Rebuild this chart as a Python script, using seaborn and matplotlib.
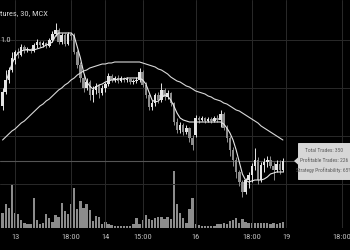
import numpy as np
import pandas as pd
import matplotlib
matplotlib.use("Agg")
import matplotlib.pyplot as plt
import seaborn as sns
from matplotlib import font_manager
from matplotlib.patches import Rectangle, Polygon

# ---------------- data ----------------
bar_index = list(range(-4, 87))  # 30-minute bars; 0 = day 13, 09:00

open_ = [5215, 5229, 5241, 5251, 5261, 5269, 5266, 5274, 5271, 5272, 5270, 5276, 5279, 5276, 5278, 5275,
         5281, 5287, 5291, 5279, 5286, 5277, 5287, 5285, 5269, 5256, 5243, 5233, 5239, 5226, 5231, 5235,
         5228, 5233, 5237, 5245, 5241, 5243, 5240, 5243, 5241, 5242, 5239, 5240, 5241, 5249, 5236, 5226,
         5214, 5218, 5226, 5221, 5231, 5224, 5228, 5218, 5199, 5191, 5196, 5189, 5193, 5183, 5186, 5203,
         5201, 5203, 5200, 5202, 5200, 5203, 5201, 5207, 5193, 5183, 5171, 5161, 5149, 5139, 5129, 5141,
         5146, 5155, 5161, 5141, 5156, 5159, 5161, 5155, 5151, 5157, 5151]
close = [5229, 5241, 5251, 5263, 5269, 5266, 5274, 5271, 5272, 5270, 5276, 5279, 5276, 5278, 5275, 5281,
         5287, 5291, 5279, 5286, 5277, 5287, 5285, 5269, 5256, 5243, 5233, 5239, 5226, 5231, 5235, 5228,
         5233, 5237, 5245, 5241, 5243, 5240, 5243, 5241, 5242, 5239, 5240, 5241, 5249, 5236, 5226, 5214,
         5218, 5226, 5221, 5231, 5224, 5228, 5218, 5199, 5191, 5196, 5189, 5193, 5183, 5176, 5203, 5201,
         5203, 5200, 5202, 5200, 5203, 5201, 5207, 5193, 5183, 5171, 5161, 5149, 5139, 5129, 5141, 5146,
         5155, 5161, 5141, 5156, 5159, 5161, 5155, 5151, 5157, 5151, 5160]
high = [5233, 5251, 5254, 5269, 5271, 5273, 5277, 5276, 5274, 5273, 5278, 5282, 5280, 5280, 5279, 5283,
        5290, 5298, 5293, 5288, 5288, 5289, 5289, 5288, 5271, 5259, 5247, 5243, 5241, 5235, 5238, 5237,
        5236, 5239, 5248, 5247, 5245, 5246, 5245, 5244, 5244, 5243, 5242, 5244, 5253, 5251, 5239, 5228,
        5221, 5228, 5229, 5238, 5233, 5231, 5229, 5219, 5203, 5199, 5198, 5196, 5194, 5186, 5206, 5205,
        5205, 5204, 5204, 5204, 5205, 5206, 5211, 5209, 5196, 5185, 5174, 5164, 5151, 5141, 5143, 5149,
        5158, 5173, 5164, 5159, 5163, 5165, 5165, 5159, 5161, 5161, 5163]
low = [5211, 5227, 5238, 5249, 5257, 5263, 5265, 5268, 5269, 5268, 5269, 5273, 5274, 5274, 5273, 5274,
       5279, 5285, 5277, 5277, 5275, 5276, 5281, 5267, 5253, 5239, 5229, 5231, 5221, 5219, 5227, 5223,
       5226, 5229, 5235, 5239, 5239, 5238, 5239, 5239, 5239, 5237, 5237, 5238, 5239, 5234, 5223, 5211,
       5211, 5215, 5218, 5219, 5221, 5222, 5215, 5196, 5188, 5188, 5186, 5187, 5179, 5171, 5184, 5198,
       5200, 5198, 5199, 5198, 5199, 5199, 5194, 5191, 5179, 5165, 5155, 5143, 5135, 5124, 5127, 5133,
       5139, 5151, 5137, 5139, 5149, 5154, 5153, 5141, 5149, 5147, 5149]
volume = [1500, 2400, 2000, 4400, 1500, 1400, 800, 500, 400, 400, 3000, 800, 400, 500, 1400, 1000,
          600, 1300, 1100, 2500, 1700, 1400, 2400, 4000, 1900, 2700, 2000, 2400, 1800, 700, 1200, 1100,
          400, 600, 400, 300, 200, 200, 200, 200, 200, 200, 400, 1000, 400, 800, 1300, 900,
          800, 1000, 1100, 1100, 900, 1100, 900, 5700, 2400, 1500, 1000, 500, 1900, 3000, 400, 300,
          200, 200, 200, 200, 200, 400, 400, 500, 400, 700, 800, 1000, 500, 900, 600, 500,
          500, 500, 500, 500, 500, 500, 400, 500, 400, 500, 600]
ma_fast = [5226, 5238, 5248, 5257, 5264, 5268, 5270, 5271, 5271, 5271, 5271, 5272, 5273, 5274, 5276, 5277,
           5279, 5285, 5288, 5288, 5288, 5288, 5288, 5285, 5274, 5263, 5249, 5239, 5235, 5232, 5234, 5236,
           5237, 5239, 5240, 5241, 5241, 5242, 5242, 5242, 5243, 5243, 5243, 5243, 5243, 5241, 5237, 5229,
           5221, 5219, 5220, 5223, 5226, 5225, 5221, 5215, 5208, 5203, 5201, 5200, 5199, 5199, 5199, 5199,
           5199, 5199, 5199, 5199, 5199, 5199, 5199, 5197, 5193, 5188, 5181, 5171, 5159, 5147, 5141, 5139,
           5140, 5141, 5141, 5141, 5142, 5144, 5147, 5148, 5149, 5149, 5149]
ma_slow = [5181, 5184, 5187, 5190, 5192, 5195, 5198, 5200, 5203, 5206, 5209, 5212, 5215, 5217, 5220, 5222,
           5225, 5228, 5231, 5233, 5236, 5238, 5241, 5243, 5246, 5248, 5250, 5251, 5253, 5254, 5255, 5256,
           5257, 5257, 5258, 5258, 5259, 5259, 5259, 5259, 5259, 5259, 5259, 5259, 5259, 5258, 5257, 5256,
           5255, 5254, 5252, 5251, 5249, 5247, 5244, 5242, 5240, 5239, 5237, 5235, 5234, 5232, 5230, 5229,
           5228, 5227, 5225, 5224, 5222, 5221, 5220, 5218, 5217, 5215, 5213, 5211, 5210, 5208, 5206, 5204,
           5202, 5200, 5198, 5195, 5193, 5191, 5189, 5187, 5185, 5183, 5181]

tick_pos = [0, 18, 29, 41, 58, 76, 87, 105]
tick_labels = ["13", "18:00", "14", "15:00", "16", "18:00", "19", "18:00"]
grid_prices = [5137, 5185, 5233, 5281]
title_text = "tures, 30, MCX"
price_label = "1.0"
stats_lines = ["Total Trades: 350", "Profitable Trades: 226", "Strategy Profitability: 65%"]

df = pd.DataFrame(dict(idx=bar_index, open=open_, high=high, low=low, close=close,
                       volume=volume, ma_fast=ma_fast, ma_slow=ma_slow))

# ---------------- style ----------------
sns.set_theme(style="dark")
available = {f.name for f in font_manager.fontManager.ttflist}
narrow = next((f for f in ["Liberation Sans Narrow", "Roboto Condensed", "DejaVu Sans"] if f in available),
              "DejaVu Sans")
plt.rcParams["font.family"] = [narrow, "DejaVu Sans"]
plt.rcParams["font.stretch"] = "condensed"

BG = "#000000"
UP = "#e4e4e4"
DOWN = "#8e8e8e"
GRID = "#2a2a2a"

fig = plt.figure(figsize=(3.5, 2.5), dpi=100, facecolor=BG)
rect = [0, 22 / 250, 1, 228 / 250]
ax = fig.add_axes(rect)
axv = ax.twinx()
ax.set_zorder(axv.get_zorder() + 1)
ax.patch.set_visible(False)
axv.patch.set_visible(False)

# volume
axv.bar(df["idx"], df["volume"], width=0.75, color="#8c8c8c", linewidth=0)
axv.set_ylim(0, 22800)
axv.set_yticks([])
for s in axv.spines.values():
    s.set_visible(False)

# grid + last price line
ax.set_xlim(-4.82, 107.54)
ax.set_ylim(5093, 5321)
ax.set_xticks(tick_pos)
ax.set_xticklabels(tick_labels)
ax.set_yticks(grid_prices)
ax.set_yticklabels([])
ax.grid(True, color=GRID, linewidth=0.7)
ax.set_axisbelow(True)
ax.axhline(df["close"].iloc[-1], color="#555555", linewidth=0.8, zorder=1)

# candles
up = df["close"] >= df["open"]
colors = np.where(up, UP, DOWN)
ax.vlines(df["idx"], df["low"], df["high"], colors=colors, linewidth=0.7, zorder=3)
body_bottom = np.minimum(df["open"], df["close"])
body_h = np.maximum((df["close"] - df["open"]).abs(), 1.0)
ax.bar(df["idx"], body_h, bottom=body_bottom, width=0.8, color=colors, linewidth=0, zorder=4)

# moving averages
sns.lineplot(data=df, x="idx", y="ma_slow", ax=ax, color="#d8d8d8", linewidth=0.8, zorder=5)
sns.lineplot(data=df, x="idx", y="ma_fast", ax=ax, color="#e8e8e8", linewidth=0.8, zorder=5)
ax.set_xlabel("")
ax.set_ylabel("")

for s in ax.spines.values():
    s.set_visible(False)
ax.tick_params(axis="x", length=0, pad=4, labelsize=6, labelcolor="#bdbdbd")
ax.tick_params(axis="y", length=0)

# texts
fig.text(0.001, 1 - 13 / 250, title_text, ha="left", va="center", fontsize=6, color="#d4d4d4")
fig.text(0.001, 1 - 40.5 / 250, price_label, ha="left", va="center", fontsize=6, color="#cccccc")

# stats box with pointer
W, H = 350, 250
box = Rectangle((298 / W, 1 - 179 / H), 60 / W, 36 / H, transform=fig.transFigure,
                facecolor="#d6d6d6", edgecolor="#e8e8e8", linewidth=0.6, zorder=10)
fig.patches.append(box)
tri = Polygon([(294 / W, 1 - 161 / H), (298.5 / W, 1 - 157 / H), (298.5 / W, 1 - 165 / H)],
              closed=True, transform=fig.transFigure, facecolor="#d6d6d6", edgecolor="none", zorder=10)
fig.patches.append(tri)
for line, y in zip(stats_lines, [151, 160.5, 170]):
    fig.text(324 / W, 1 - y / H, line, ha="center", va="center", fontsize=4.0, color="#5a5a5a", zorder=11)

fig.savefig("out.png", dpi=100, facecolor=BG)
